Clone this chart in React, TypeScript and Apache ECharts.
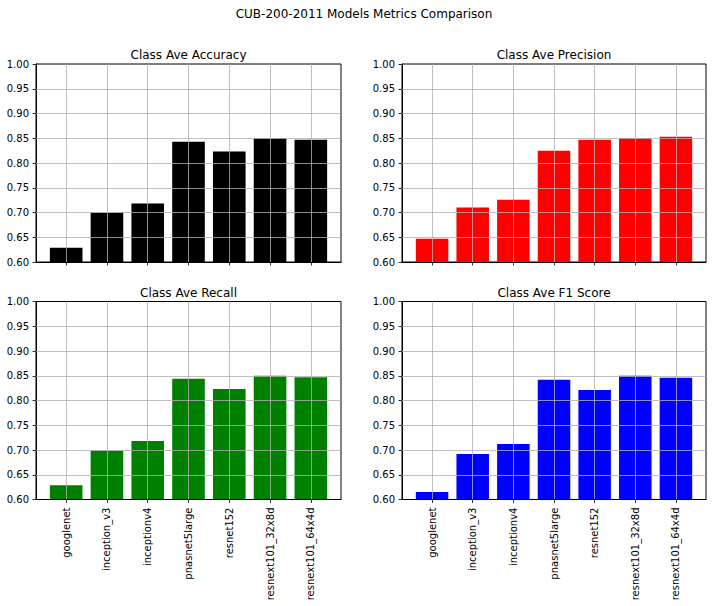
import React, { useEffect, useRef } from "react";
import * as echarts from "echarts";

const categories = [
  "googlenet",
  "inception_v3",
  "inceptionv4",
  "pnasnet5large",
  "resnet152",
  "resnext101_32x8d",
  "resnext101_64x4d",
];

const accuracy = [0.629, 0.7, 0.718, 0.843, 0.823, 0.85, 0.847];
const precision = [0.647, 0.71, 0.726, 0.825, 0.847, 0.85, 0.853];
const recall = [0.629, 0.699, 0.718, 0.844, 0.823, 0.85, 0.847];
const f1Score = [0.615, 0.692, 0.712, 0.842, 0.821, 0.85, 0.846];

const panelTitles = [
  "Class Ave Accuracy",
  "Class Ave Precision",
  "Class Ave Recall",
  "Class Ave F1 Score",
];
const panelColors = ["#000000", "#ff0000", "#008000", "#0000ff"];
const panelData = [accuracy, precision, recall, f1Score];

const yTicks = [0.6, 0.65, 0.7, 0.75, 0.8, 0.85, 0.9, 0.95, 1.0];
const suptitle = "CUB-200-2011 Models Metrics Comparison";

const FONT = "DejaVu Sans";
const X_MIN = -0.74;
const X_MAX = 6.74;
const Y_MIN = 0.6;
const Y_MAX = 1.0;

const GRIDS = [
  { left: 36, top: 64, width: 305, height: 198 },
  { left: 402, top: 64, width: 304, height: 198 },
  { left: 36, top: 301.5, width: 305, height: 198 },
  { left: 402, top: 301.5, width: 304, height: 198 },
];

export default function App() {
  const ref = useRef<HTMLDivElement>(null);

  useEffect(() => {
    document.body.style.margin = "0";
    const chart = echarts.init(ref.current!, null, { renderer: "svg" });
    const xTickVals = categories.map((_, i) => i);
    const innerY = yTicks.slice(1, -1);

    const option: any = {
      animation: false,
      backgroundColor: "#ffffff",
      grid: GRIDS.map((g) => ({
        ...g,
        show: true,
        borderColor: "#000000",
        borderWidth: 1,
        backgroundColor: "transparent",
        containLabel: false,
      })),
      xAxis: GRIDS.map((g, i) => ({
        gridIndex: i,
        type: "value",
        min: X_MIN,
        max: X_MAX,
        splitNumber: 7,
        z: 3,
        axisLine: { show: true, onZero: false, lineStyle: { color: "#000", width: 1 } },
        axisTick: {
          show: true,
          customValues: xTickVals,
          length: 3.5,
          lineStyle: { color: "#000", width: 0.8 },
        },
        axisLabel: {
          show: i >= 2,
          customValues: xTickVals,
          rotate: 90,
          margin: 8,
          fontSize: 10,
          fontFamily: FONT,
          color: "#000",
          formatter: (v: number) => (Number.isInteger(v) && categories[v] ? categories[v] : ""),
        },
        splitLine: { show: false },
      })),
      yAxis: GRIDS.map((g, i) => ({
        gridIndex: i,
        type: "value",
        min: Y_MIN,
        max: Y_MAX,
        interval: 0.05,
        z: 3,
        axisLine: { show: true, onZero: false, lineStyle: { color: "#000", width: 1 } },
        axisTick: { show: true, length: 3.5, lineStyle: { color: "#000", width: 0.8 } },
        axisLabel: {
          margin: 7,
          fontSize: 10,
          fontFamily: FONT,
          color: "#000",
          formatter: (v: number) => v.toFixed(2),
        },
        splitLine: { show: false },
      })),
      series: panelData.map((vals, i) => ({
        type: "bar",
        xAxisIndex: i,
        yAxisIndex: i,
        data: vals.map((v, k) => [k, v]),
        barWidth: (GRIDS[i].width / (X_MAX - X_MIN)) * 0.8,
        itemStyle: { color: panelColors[i] },
        clip: true,
        emphasis: { disabled: true },
        markLine: {
          silent: true,
          symbol: ["none", "none"],
          label: { show: false },
          emphasis: { disabled: true },
          lineStyle: { color: "#b0b0b0", width: 0.8, type: "solid" },
          data: [
            ...xTickVals.map((x) => [{ coord: [x, Y_MIN] }, { coord: [x, Y_MAX] }]),
            ...innerY.map((y) => [{ coord: [X_MIN, y] }, { coord: [X_MAX, y] }]),
          ],
        },
      })),
      graphic: [
        {
          type: "text",
          x: 364,
          y: 14,
          style: {
            text: suptitle,
            fontSize: 12,
            fontFamily: FONT,
            fill: "#000",
            align: "center",
            verticalAlign: "middle",
          },
        },
        ...GRIDS.map((g, i) => ({
          type: "text",
          x: g.left + g.width / 2,
          y: g.top - 9,
          style: {
            text: panelTitles[i],
            fontSize: 12,
            fontFamily: FONT,
            fill: "#000",
            align: "center",
            verticalAlign: "middle",
          },
        })),
      ],
    };

    chart.setOption(option);
    return () => chart.dispose();
  }, []);

  return <div ref={ref} style={{ width: 713, height: 606 }} />;
}
